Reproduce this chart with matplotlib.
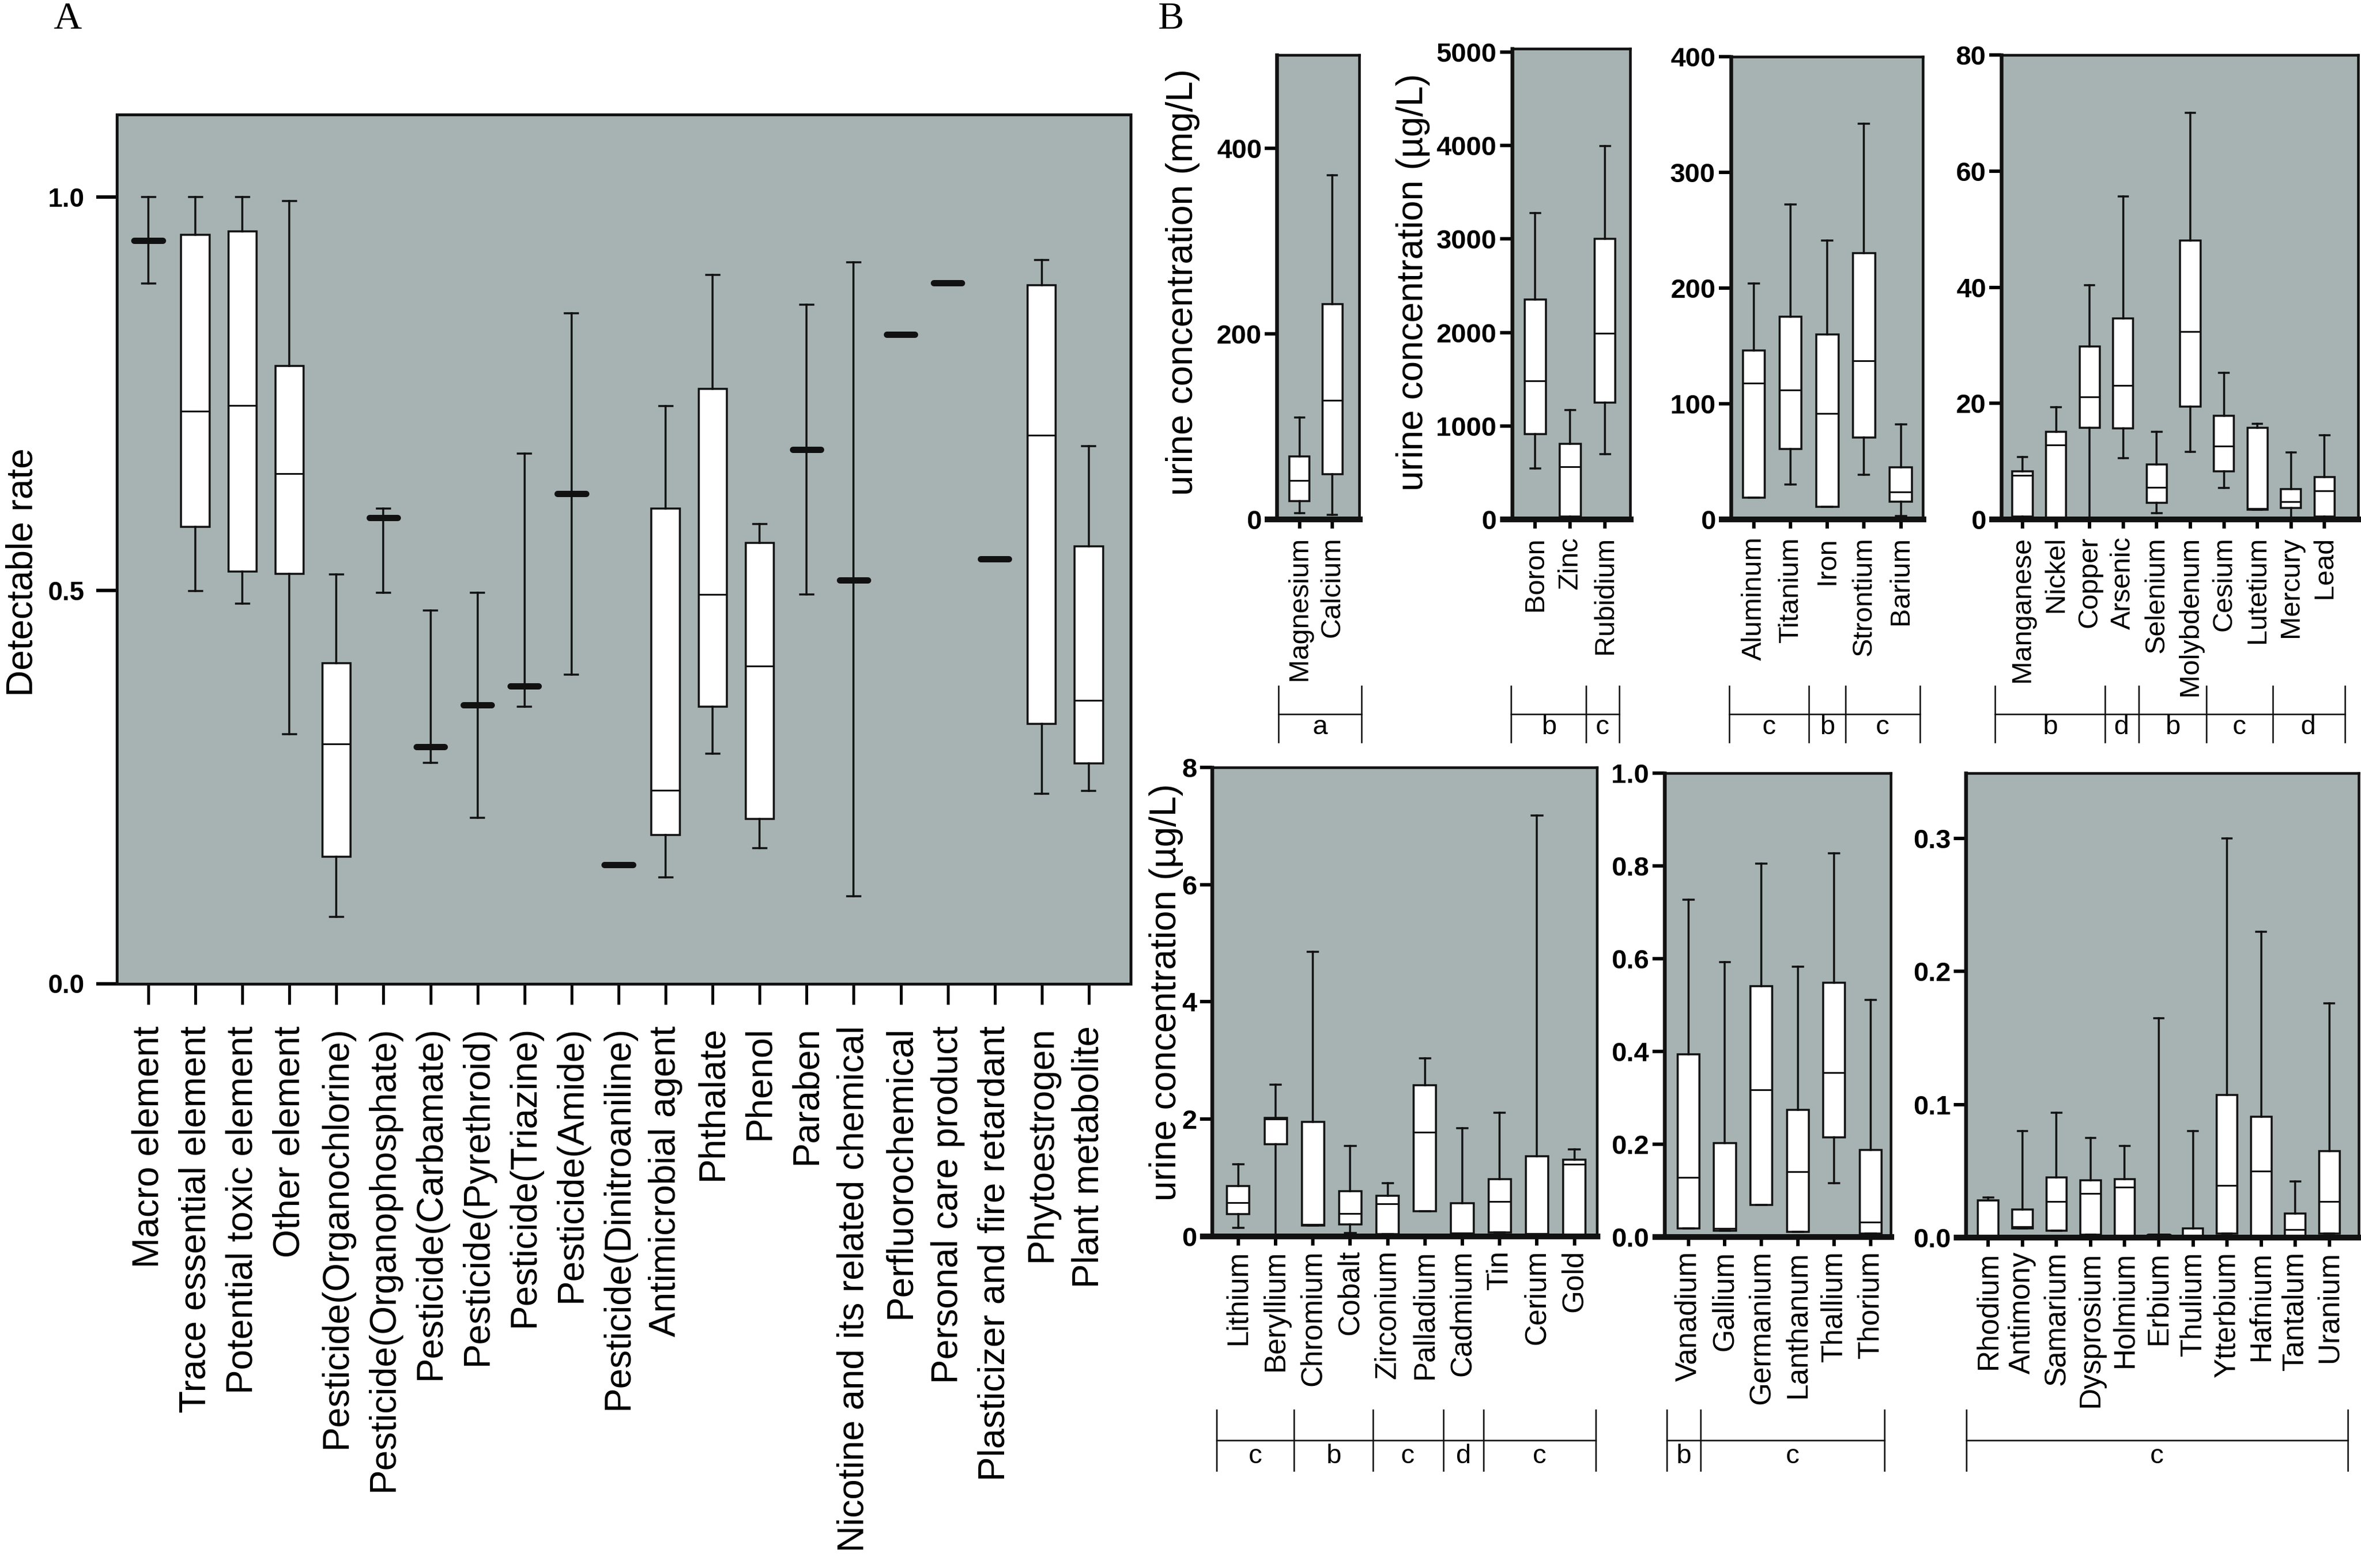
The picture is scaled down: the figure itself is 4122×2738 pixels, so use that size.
import matplotlib
matplotlib.use("Agg")
import matplotlib.pyplot as plt
from matplotlib.transforms import blended_transform_factory
import numpy as np

# ---------------- Panel A data (detectable rate) ----------------
cats_A = ["Macro element", "Trace essential element", "Potential toxic element", "Other element",
          "Pesticide(Organochlorine)", "Pesticide(Organophosphate)", "Pesticide(Carbamate)",
          "Pesticide(Pyrethroid)", "Pesticide(Triazine)", "Pesticide(Amide)", "Pesticide(Dinitroaniline)",
          "Antimicrobial agent", "Phthalate", "Phenol", "Paraben", "Nicotine and its related chemical",
          "Perfluorochemical", "Personal care product", "Plasticizer and fire retardant", "Phytoestrogen",
          "Plant metabolite"]
lo_A  = [0.890, 0.499, 0.483, 0.317, 0.085, 0.497, 0.281, 0.211, 0.352, 0.393, 0.151, 0.135, 0.292, 0.172, 0.495, 0.111, 0.825, 0.891, 0.540, 0.241, 0.245]
q1_A  = [0.945, 0.581, 0.524, 0.521, 0.161, 0.592, 0.301, 0.354, 0.378, 0.623, 0.151, 0.189, 0.352, 0.209, 0.679, 0.513, 0.825, 0.891, 0.540, 0.330, 0.280]
med_A = [0.945, 0.728, 0.735, 0.648, 0.305, 0.592, 0.301, 0.354, 0.378, 0.623, 0.151, 0.246, 0.495, 0.404, 0.679, 0.513, 0.825, 0.891, 0.540, 0.697, 0.360]
q3_A  = [0.945, 0.952, 0.956, 0.785, 0.407, 0.592, 0.301, 0.354, 0.378, 0.623, 0.151, 0.604, 0.756, 0.560, 0.679, 0.513, 0.825, 0.891, 0.540, 0.888, 0.556]
hi_A  = [1.000, 1.000, 1.000, 0.995, 0.520, 0.604, 0.474, 0.497, 0.674, 0.852, 0.151, 0.734, 0.901, 0.584, 0.863, 0.917, 0.825, 0.891, 0.540, 0.920, 0.683]

# ---------------- Panel B data (urine concentration) ----------------
names_B1 = ["Magnesium", "Calcium"]
lo_B1  = [7, 5]
q1_B1  = [19.5, 48.5]
med_B1 = [42, 128.5]
q3_B1  = [68, 232]
hi_B1  = [110, 371]

names_B2 = ["Boron", "Zinc", "Rubidium"]
lo_B2  = [548, 0, 696]
q1_B2  = [912, 30, 1247]
med_B2 = [1484, 565, 1989]
q3_B2  = [2350, 806, 3000]
hi_B2  = [3279, 1173, 3996]

names_B3 = ["Aluminum", "Titanium", "Iron", "Strontium", "Barium"]
lo_B3  = [19, 30, 11, 38.6, 3]
q1_B3  = [19, 61, 11, 71, 15.5]
med_B3 = [118, 112, 91.5, 137, 24]
q3_B3  = [146, 175, 160, 230, 45]
hi_B3  = [204, 272, 241, 342, 82]

names_B4 = ["Manganese", "Nickel", "Copper", "Arsenic", "Selenium", "Molybdenum", "Cesium", "Lutetium", "Mercury", "Lead"]
lo_B4  = [0.3, 0.2, 0.0, 10.6, 1.1, 11.6, 5.4, 1.7, 0.3, 0.3]
q1_B4  = [0.5, 0.3, 15.8, 15.7, 2.9, 19.4, 8.3, 1.7, 2.0, 0.5]
med_B4 = [7.6, 12.8, 21.1, 23.1, 5.5, 32.4, 12.6, 1.9, 3.1, 4.9]
q3_B4  = [8.3, 15.1, 29.8, 34.6, 9.5, 48.1, 17.9, 15.8, 5.2, 7.3]
hi_B4  = [10.8, 19.3, 40.4, 55.7, 15.1, 70.1, 25.3, 16.5, 11.5, 14.5]

names_B5 = ["Lithium", "Beryllium", "Chromium", "Cobalt", "Zirconium", "Palladium", "Cadmium", "Tin", "Cerium", "Gold"]
lo_B5  = [0.14, 0.00, 0.18, 0.05, 0.03, 0.43, 0.04, 0.06, 0.03, 0.02]
q1_B5  = [0.38, 1.57, 0.18, 0.20, 0.03, 0.43, 0.04, 0.06, 0.03, 0.02]
med_B5 = [0.57, 2.00, 0.20, 0.39, 0.55, 1.77, 0.05, 0.59, 0.04, 1.23]
q3_B5  = [0.86, 2.02, 1.95, 0.77, 0.69, 2.58, 0.56, 0.97, 1.36, 1.30]
hi_B5  = [1.23, 2.59, 4.85, 1.54, 0.90, 3.03, 1.84, 2.11, 7.18, 1.48]

names_B6 = ["Vanadium", "Gallium", "Germanium", "Lanthanum", "Thallium", "Thorium"]
lo_B6  = [0.018, 0.013, 0.069, 0.011, 0.116, 0.008]
q1_B6  = [0.018, 0.013, 0.069, 0.011, 0.215, 0.008]
med_B6 = [0.128, 0.018, 0.318, 0.141, 0.355, 0.032]
q3_B6  = [0.394, 0.203, 0.541, 0.274, 0.549, 0.188]
hi_B6  = [0.727, 0.593, 0.805, 0.583, 0.828, 0.511]

names_B7 = ["Rhodium", "Antimony", "Samarium", "Dysprosium", "Holmium", "Erbium", "Thulium", "Ytterbium", "Hafnium", "Tantalum", "Uranium"]
lo_B7  = [0.001, 0.007, 0.005, 0.002, 0.0015, 0.0005, 0.001, 0.003, 0.001, 0.001, 0.003]
q1_B7  = [0.001, 0.007, 0.005, 0.002, 0.0015, 0.0005, 0.001, 0.003, 0.001, 0.001, 0.003]
med_B7 = [0.028, 0.008, 0.027, 0.033, 0.038, 0.0010, 0.001, 0.039, 0.050, 0.006, 0.027]
q3_B7  = [0.028, 0.021, 0.045, 0.043, 0.044, 0.0015, 0.007, 0.107, 0.091, 0.018, 0.065]
hi_B7  = [0.030, 0.080, 0.094, 0.075, 0.069, 0.165, 0.080, 0.300, 0.230, 0.042, 0.176]

# significance groups: bracket boundaries (category units) and letters
groups_B1 = ([-0.63, 1.88], ["a"])
groups_B2 = ([-0.69, 1.46, 2.40], ["b", "c"])
groups_B3 = ([-0.67, 1.5, 2.5, 4.52], ["c", "b", "c"])
groups_B4 = ([-0.82, 2.45, 3.47, 5.48, 7.45, 9.6], ["b", "d", "b", "c", "d"])
groups_B5 = ([-0.58, 1.49, 3.6, 5.49, 6.57, 9.57], ["c", "b", "c", "d", "c"])
groups_B6 = ([-0.59, 0.33, 5.38], ["b", "c"])
groups_B7 = ([-0.65, 10.54], ["c"])

yticks_B1 = [0, 200, 400]
yticks_B2 = [0, 1000, 2000, 3000, 4000, 5000]
yticks_B3 = [0, 100, 200, 300, 400]
yticks_B4 = [0, 20, 40, 60, 80]
yticks_B5 = [0, 2, 4, 6, 8]
yticks_B6 = ["0.0", "0.2", "0.4", "0.6", "0.8", "1.0"]
yticks_B7 = ["0.0", "0.1", "0.2", "0.3"]

# ---------------- figure ----------------
W, H = 4122, 2738
DPI = 100
plt.rcParams['font.family'] = ['Liberation Sans', 'DejaVu Sans']
fig = plt.figure(figsize=(W / DPI, H / DPI), dpi=DPI)
BG = '#a6b3b2'


def px(v):
    return v * 72.0 / DPI


def rect(l, r, t, b):
    return [l / W, 1 - b / H, (r - l) / W, (b - t) / H]


def draw_boxes(ax, lo, q1, med, q3, hi, ymax):
    stats = [dict(whislo=a, q1=b, med=c, q3=d, whishi=e) for a, b, c, d, e in zip(lo, q1, med, q3, hi)]
    pos = np.arange(len(stats))
    art = ax.bxp(stats, positions=pos, widths=0.6, capwidths=0.28, patch_artist=True,
                 showfliers=False, manage_ticks=False,
                 boxprops=dict(facecolor='white', edgecolor='#111111', linewidth=px(3.5)),
                 medianprops=dict(color='#111111', linewidth=px(3)),
                 whiskerprops=dict(color='#111111', linewidth=px(3.5)),
                 capprops=dict(color='#111111', linewidth=px(3.5)))
    for i, (b, d) in enumerate(zip(q1, q3)):
        if d - b < 0.004 * ymax:
            art['medians'][i].set_linewidth(px(11))
            art['medians'][i].set_solid_capstyle('round')
    return pos


# ---------------- Panel A ----------------
axA = fig.add_axes(rect(203.6, 1974, 199.8, 1717.5))
axA.set_facecolor(BG)
axA.set_ylim(0, 1.105)
axA.set_xlim(-0.675, 20.89)
posA = draw_boxes(axA, lo_A, q1_A, med_A, q3_A, hi_A, 1.105)
axA.set_xticks(posA)
axA.set_xticklabels(cats_A, rotation=90, fontsize=46)
axA.set_yticks([0.0, 0.5, 1.0])
axA.set_yticklabels(["0.0", "0.5", "1.0"], fontsize=33, fontweight='bold')
axA.tick_params(axis='x', length=px(36), width=px(5), pad=27, direction='out')
axA.tick_params(axis='y', length=px(36), width=px(6), pad=15, direction='out')
for s in axA.spines.values():
    s.set_linewidth(px(5))
    s.set_color('#111111')
fig.text(40 / W, 1 - 999 / H, "Detectable rate", rotation=90, ha='center', va='center', fontsize=46)

fig.text(118 / W, 1 - 34 / H, "A", family='Liberation Serif', fontsize=49, ha='center', va='center')
fig.text(2044 / W, 1 - 34 / H, "B", family='Liberation Serif', fontsize=49, ha='center', va='center')

# ---------------- Panel B ----------------
UP = dict(bt=1198, bh=1247, bb=1296, bl=1270)
LO = dict(bt=2462, bh=2515, bb=2568, bl=2543)

panels = [
    (rect(2229.4, 2373, 96.4, 907), (-0.68, 1.81), 500, names_B1, lo_B1, q1_B1, med_B1, q3_B1, hi_B1, yticks_B1, groups_B1, UP, 10, 35),
    (rect(2639.5, 2846, 85, 907), (-0.67, 2.72), 5036, names_B2, lo_B2, q1_B2, med_B2, q3_B2, hi_B2, yticks_B2, groups_B2, UP, 10, 35),
    (rect(3021.7, 3357, 98.7, 907), (-0.63, 4.6), 397, names_B3, lo_B3, q1_B3, med_B3, q3_B3, hi_B3, yticks_B3, groups_B3, UP, 10, 35),
    (rect(3494, 4117, 96.4, 907), (-0.63, 10.0), 80, names_B4, lo_B4, q1_B4, med_B4, q3_B4, hi_B4, yticks_B4, groups_B4, UP, 10, 35),
    (rect(2116.3, 2787.7, 1340, 2158.5), (-0.70, 9.6), 8, names_B5, lo_B5, q1_B5, med_B5, q3_B5, hi_B5, yticks_B5, groups_B5, LO, 6, 37),
    (rect(2905.6, 3301.4, 1350.5, 2160), (-0.665, 5.56), 1.0, names_B6, lo_B6, q1_B6, med_B6, q3_B6, hi_B6, yticks_B6, groups_B6, LO, 6, 37),
    (rect(3432.3, 4118, 1350, 2161), (-0.655, 10.86), 0.349, names_B7, lo_B7, q1_B7, med_B7, q3_B7, hi_B7, yticks_B7, groups_B7, LO, 6, 37),
]

for (r, xl, ymax, names, lo, q1, med, q3, hi, yt, groups, brk, xpad, xfs) in panels:
    ax = fig.add_axes(r)
    ax.set_facecolor(BG)
    ax.set_xlim(*xl)
    ax.set_ylim(0, ymax)
    pos = draw_boxes(ax, lo, q1, med, q3, hi, ymax)
    ax.set_xticks(pos)
    ax.set_xticklabels(names, rotation=90, fontsize=xfs)
    yv = [float(v) for v in yt]
    ax.set_yticks(yv)
    ax.set_yticklabels([str(v) for v in yt], fontsize=34, fontweight='bold')
    ax.tick_params(axis='x', length=px(16), width=px(6), pad=xpad, direction='out')
    ax.tick_params(axis='y', length=px(21), width=px(6), pad=4, direction='out')
    ax.spines['left'].set_linewidth(px(6.5))
    ax.spines['bottom'].set_linewidth(px(10))
    ax.spines['top'].set_linewidth(px(4.6))
    ax.spines['right'].set_linewidth(px(4.6))
    for s in ax.spines.values():
        s.set_color('#111111')
    wpx = r[2] * W
    ax.plot([-21 / wpx, 1 + 6 / wpx], [0, 0], transform=ax.transAxes, color='#111111',
            lw=px(10), clip_on=False, solid_capstyle='butt', zorder=3)
    # group brackets
    tr = blended_transform_factory(ax.transData, fig.transFigure)
    bounds, letters = groups
    yt_f, yh_f, yb_f, yl_f = [1 - brk[k] / H for k in ('bt', 'bh', 'bb', 'bl')]
    for xb in bounds:
        ax.plot([xb, xb], [yt_f, yb_f], transform=tr, color='#111111', lw=px(2.6), clip_on=False)
    ax.plot([bounds[0], bounds[-1]], [yh_f, yh_f], transform=tr, color='#111111', lw=px(2.6), clip_on=False)
    for i, letter in enumerate(letters):
        xc = 0.5 * (bounds[i] + bounds[i + 1])
        ax.text(xc, yl_f, letter, transform=tr, ha='center', va='center', fontsize=34)

fig.text(2065 / W, 1 - 493 / H, "urine concentration (mg/L)", rotation=90, ha='center', va='center', fontsize=46)
fig.text(2467 / W, 1 - 493 / H, "urine concentration (\u00b5g/L)", rotation=90, ha='center', va='center', fontsize=46)
fig.text(2036 / W, 1 - 1733 / H, "urine concentration (\u00b5g/L)", rotation=90, ha='center', va='center', fontsize=46)

fig.savefig("out.png", dpi=DPI, facecolor='white')
